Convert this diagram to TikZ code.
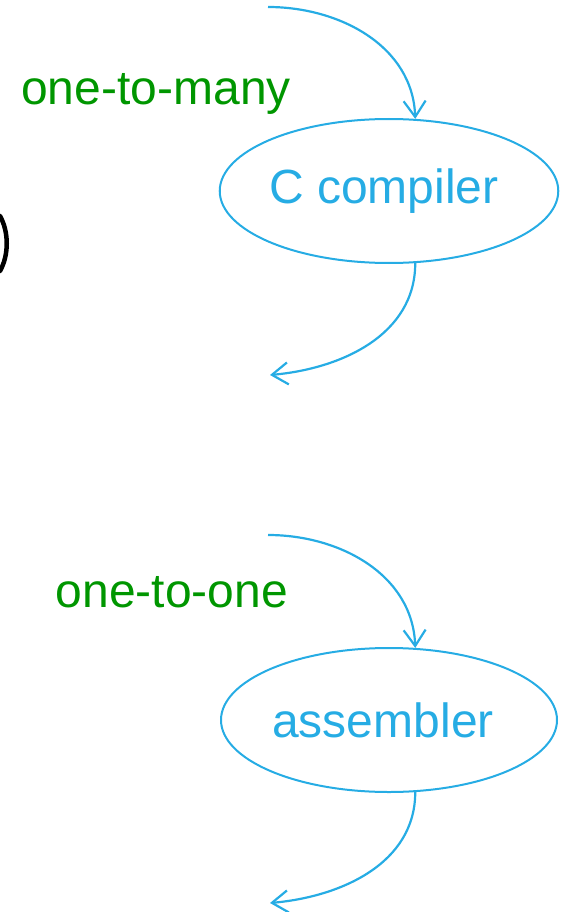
\documentclass[tikz,border=0pt]{standalone}
\usepackage{fontspec}
\setmainfont{Liberation Sans}
\usetikzlibrary{arrows.meta,shapes.geometric}
\definecolor{cblue}{RGB}{38,172,228}
\definecolor{cgreen}{RGB}{0,150,0}
\tikzset{
  proc/.style={ellipse,draw=cblue,line width=2pt,minimum width=336pt,minimum height=144pt,inner sep=0pt,text=cblue,font=\fontsize{48}{52}\selectfont},
  flow/.style={draw=cblue,line width=2.2pt,-{Straight Barb[length=16pt,width=22pt,line width=2.2pt]}},
  lbl/.style={text=cgreen,font=\fontsize{48}{52}\selectfont,inner sep=0pt}
}
\begin{document}
\begin{tikzpicture}[x=1pt,y=-1pt]
\useasboundingbox (0,0) rectangle (561,912);
% partial parenthesis at the left edge
\draw[line width=4.5pt,line cap=round] (0,216) .. controls (9,232) and (9,255) .. (0,271);
% upper part
\node[proc] (cc) at (389,191) {C compiler\kern10pt};
\coordinate (in1) at (268,7);
\coordinate (out1) at (270,375);
\node[lbl] (l1) at (156,94) {one-to-many};
\draw[flow] (in1) to[out=0,in=92] (cc.70.6);
\draw[flow] (cc.-70.6) to[out=-90,in=5] (out1);
% lower part
\node[proc] (as) at (389,720) {assembler\kern12pt};
\coordinate (in2) at (268,535);
\coordinate (out2) at (270,903);
\node[lbl] (l2) at (172,592) {one-to-one};
\draw[flow] (in2) to[out=0,in=92] (as.70.6);
\draw[flow] (as.-70.6) to[out=-90,in=5] (out2);
\end{tikzpicture}
\end{document}
